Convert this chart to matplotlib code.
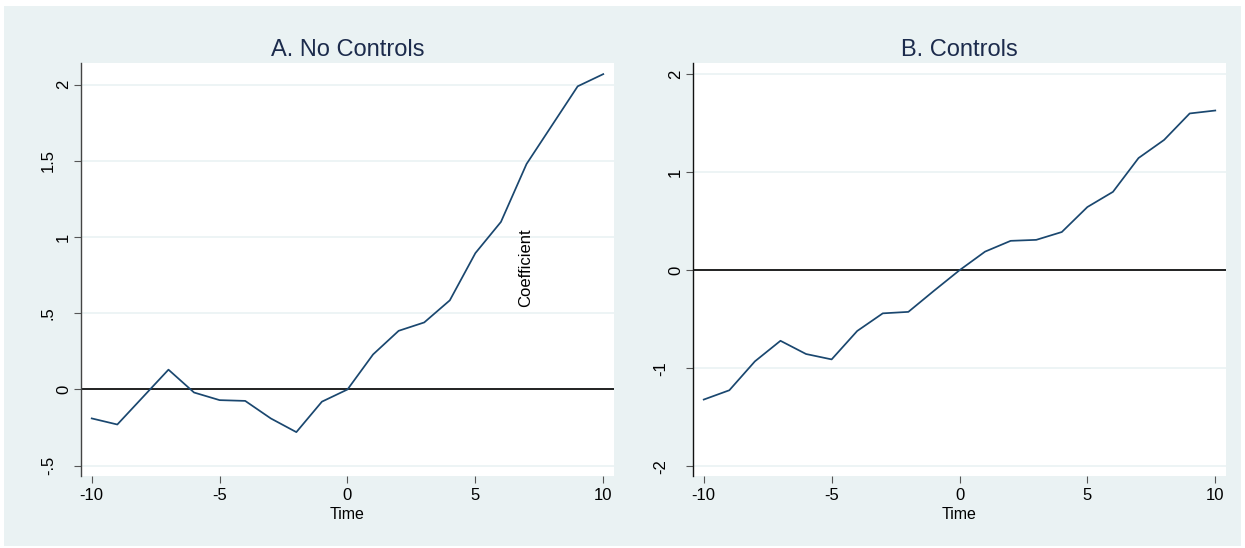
import matplotlib.pyplot as plt
from matplotlib.patches import Rectangle

plt.rcParams['font.family'] = ['Liberation Sans', 'DejaVu Sans']

# Event-study coefficients by relative time
time = list(range(-10, 11))
coef_no_controls = [-0.19, -0.23, -0.05, 0.13, -0.02, -0.07, -0.075, -0.19, -0.28, -0.08,
                    0.0, 0.23, 0.385, 0.44, 0.585, 0.895, 1.10, 1.48, 1.735, 1.99, 2.07]
coef_controls = [-1.32, -1.225, -0.93, -0.72, -0.855, -0.91, -0.62, -0.44, -0.425, -0.21,
                 0.0, 0.19, 0.30, 0.31, 0.39, 0.645, 0.80, 1.145, 1.33, 1.60, 1.63]

xticks = [-10, -5, 0, 5, 10]
yticks_a = [-0.5, 0, 0.5, 1, 1.5, 2]
yticklabels_a = ['-.5', '0', '.5', '1', '1.5', '2']
yticks_b = [-2, -1, 0, 1, 2]
yticklabels_b = ['-2', '-1', '0', '1', '2']

BG = '#eaf2f3'
NAVY = '#1a476f'

fig = plt.figure(figsize=(12.45, 5.48), dpi=100, facecolor='white')
fig.patches.append(Rectangle((4 / 1245, 2 / 548), 1237 / 1245, 540 / 548,
                             transform=fig.transFigure, facecolor=BG,
                             edgecolor='none', zorder=-10))


def panel(left, y, yticks, ylabels, ylim, title, axcolor):
    ax = fig.add_axes([left, 0.13139, 0.42811, 0.75365])
    ax.set_facecolor('white')
    for s in ['top', 'right', 'bottom']:
        ax.spines[s].set_visible(False)
    ax.spines['left'].set_color(axcolor)
    ax.spines['left'].set_linewidth(1.0)

    ax.set_xlim(-10.42, 10.42)
    ax.set_ylim(*ylim)
    ax.set_xticks(xticks)
    ax.set_xticklabels([str(t) for t in xticks])
    ax.set_yticks(yticks)
    ax.set_yticklabels(ylabels, rotation=90, va='center')

    ax.grid(axis='y', color=BG, linewidth=1.2)
    ax.set_axisbelow(True)
    ax.axhline(0, color='#111111', linewidth=1.3, zorder=2)
    ax.plot(time, y, color=NAVY, linewidth=1.25, zorder=3)

    ax.tick_params(axis='x', length=5, width=0.8, color='#555555', pad=3.7,
                   labelsize=12, labelcolor='black')
    ax.tick_params(axis='y', length=5, width=0.8, color='#555555',
                   labelsize=12, labelcolor='black')
    # labels with a point or sign sit further out from the axis
    for tk, lab in zip(ax.yaxis.get_major_ticks(), ylabels):
        tk.set_pad(13 if ('.' in lab or '-' in lab) else 2.2)

    ax.set_xlabel('Time', fontsize=11.5, labelpad=3)
    ax.text(0.5, 1.017, title, transform=ax.transAxes, ha='center',
            va='baseline', fontsize=17, color='#1c2b4c')
    return ax


ax_a = panel(0.06506, coef_no_controls, yticks_a, yticklabels_a,
             (-0.568, 2.143), 'A. No Controls', '#444444')
ax_a.text(0.835, 0.504, 'Coefficient', transform=ax_a.transAxes, rotation=90,
          ha='center', va='center', fontsize=12)

ax_b = panel(0.55663, coef_controls, yticks_b, yticklabels_b,
             (-2.10, 2.115), 'B. Controls', '#111111')

fig.savefig('out.png', dpi=100, facecolor=fig.get_facecolor())
